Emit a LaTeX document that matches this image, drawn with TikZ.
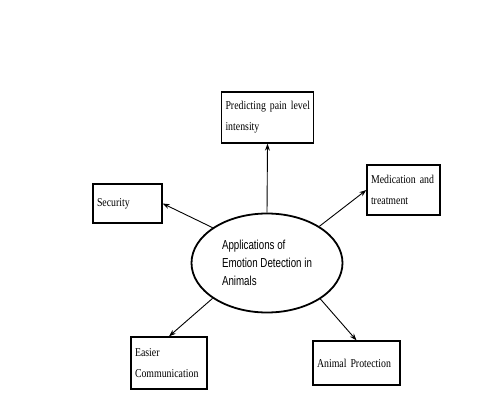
\documentclass[tikz,border=0pt]{standalone}
\usepackage{fontspec}
\setmainfont{Liberation Serif}
\newfontfamily\boxfont{Liberation Serif}[FakeStretch=0.82]
\newfontfamily\ellfont{Liberation Sans}[FakeStretch=0.75]
\usetikzlibrary{shapes.geometric,arrows.meta}

\tikzset{appbox/.style={draw, line width=1.3pt, align=left, inner xsep=4pt, inner ysep=0pt, font=\boxfont\fontsize{12}{21}\selectfont},
  apparrow/.style={line width=0.9pt, -{Stealth[length=7pt,width=5pt]}}}

\begin{document}
\begin{tikzpicture}[x=1pt, y=-1pt]
\useasboundingbox (0,0) rectangle (497,412);
\node[draw, ellipse, line width=1.8pt, minimum width=151pt, minimum height=99pt, inner sep=0pt, align=left, font=\ellfont\fontsize{13}{18}\selectfont] (app) at (267,263) {Applications of\\Emotion Detection in\\Animals};
\node[appbox, text width=84pt, minimum height=51pt] (pred) at (267.5,117.5) {\mbox{Predicting pain level}\\intensity};
\node[appbox, text width=61pt, minimum height=39pt] (sec) at (127.5,203.5) {\mbox{Security}};
\node[appbox, text width=65pt, minimum height=50pt] (med) at (403.5,190) {\mbox{Medication and}\\treatment};
\node[appbox, text width=68pt, minimum height=52pt] (easy) at (169,363) {Easier\\\mbox{Communication}};
\node[appbox, text width=79pt, minimum height=44pt] (prot) at (356.5,363) {\mbox{Animal Protection}};
\draw[apparrow] (app.north) -- (pred.south);
\draw[apparrow] (app.147) -- (sec.east);
\draw[apparrow] (app.35) -- (med.west);
\draw[apparrow] (app.213) -- (easy.north);
\draw[apparrow] (app.326) -- (prot.north);
\end{tikzpicture}
\end{document}
